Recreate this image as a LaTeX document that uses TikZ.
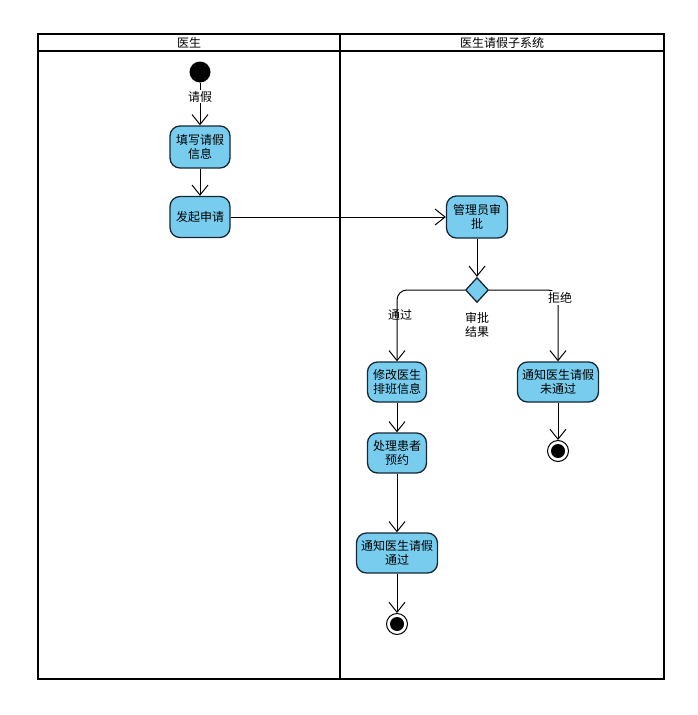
\documentclass[tikz,border=0pt]{standalone}
\usepackage{fontspec}
\setmainfont{Noto Sans CJK SC}
\usetikzlibrary{arrows.meta,shapes.geometric}
\definecolor{actfill}{RGB}{120,205,238}
\definecolor{actdraw}{RGB}{20,40,55}
\begin{document}
\begin{tikzpicture}[x=1pt,y=-1pt,
  act/.style={draw=actdraw,fill=actfill,line width=1.3pt,rounded corners=10pt,align=center,font=\fontsize{12}{14.5}\selectfont,inner sep=0pt},
  flow/.style={draw=black,line width=1pt,-{Straight Barb[length=10pt,width=16pt,line width=1pt]}},
  lbl/.style={font=\fontsize{12}{14.5}\selectfont,align=center,inner sep=1pt},
  lane/.style={draw=black,line width=1.6pt}]
\useasboundingbox (0,0) rectangle (697,715);
\fill[white] (0,0) rectangle (697,715);
% pool
\draw[lane] (38,34) rectangle (664,679);
\draw[lane] (38,51) -- (664,51);
\draw[lane] (340,34) -- (340,679);
\node[lbl] (h1) at (189,43) {医生};
\node[lbl] (h2) at (502,43) {医生请假子系统};
% nodes
\node[circle,fill=black,minimum size=21pt,inner sep=0pt] (start) at (200,72) {};
\node[act,minimum width=60pt,minimum height=42pt] (fill) at (200,147) {填写请假\\信息};
\node[act,minimum width=60pt,minimum height=41pt] (apply) at (200,217) {发起申请};
\node[act,minimum width=61pt,minimum height=42pt] (review) at (477,217) {管理员审\\批};
\node[diamond,draw=actdraw,fill=actfill,line width=1.3pt,minimum width=23pt,minimum height=25pt,inner sep=0pt] (dec) at (477,290) {};
\node[lbl] (declbl) at (477,325) {审批\\结果};
\node[act,minimum width=59pt,minimum height=40pt] (modify) at (397,382) {修改医生\\排班信息};
\node[act,minimum width=59pt,minimum height=40pt] (handle) at (397,453) {处理患者\\预约};
\node[act,minimum width=81pt,minimum height=40pt] (notok) at (397,553) {通知医生请假\\通过};
\node[act,minimum width=81pt,minimum height=40pt] (notno) at (558,382) {通知医生请假\\未通过};
\node[circle,draw=black,line width=1pt,fill=white,minimum size=21pt,inner sep=0pt] (end1) at (397,624) {};
\fill[black] (end1.center) circle (7pt);
\node[circle,draw=black,line width=1pt,fill=white,minimum size=21pt,inner sep=0pt] (end2) at (558,451) {};
\fill[black] (end2.center) circle (7pt);
% edges
\draw[flow] (start) -- node[lbl,fill=white,pos=0.33]{请假} (fill);
\draw[flow] (fill) -- (apply);
\draw[flow] (apply) -- (review);
\draw[flow] (review) -- (dec);
\draw[flow,rounded corners=10pt] (dec.west) -| (modify.north);
\draw[flow,rounded corners=10pt] (dec.east) -| (notno.north);
\node[lbl] (pass) at (400,315) {通过};
\node[lbl,fill=white] (reject) at (560,298) {拒绝};
\draw[flow] (modify) -- (handle);
\draw[flow] (handle) -- (notok);
\draw[flow] (notok) -- (end1);
\draw[flow] (notno) -- (end2);
\end{tikzpicture}
\end{document}
